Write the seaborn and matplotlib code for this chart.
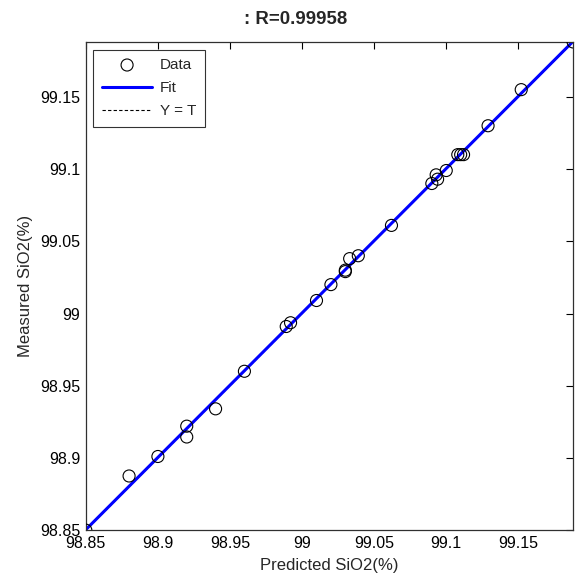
import numpy as np
import pandas as pd
import matplotlib
matplotlib.use("Agg")
import matplotlib.pyplot as plt
import seaborn as sns

sns.set_style("white")
plt.rcParams['font.family'] = ['Liberation Sans', 'DejaVu Sans']

predicted = [98.85, 98.88, 98.90, 98.92, 98.92, 98.94, 98.96, 98.989, 98.992,
             99.01, 99.02, 99.03, 99.03, 99.033, 99.039, 99.062, 99.09, 99.093,
             99.094, 99.10, 99.108, 99.11, 99.112, 99.129, 99.152, 99.188]
measured = [98.85, 98.8875, 98.901, 98.922, 98.9145, 98.934, 98.96, 98.991, 98.9936,
            99.009, 99.02, 99.029, 99.03, 99.038, 99.040, 99.061, 99.09, 99.096,
            99.093, 99.099, 99.11, 99.11, 99.11, 99.13, 99.155, 99.188]
ticks = [98.85, 98.9, 98.95, 99.0, 99.05, 99.1, 99.15]
tick_labels = ["98.85", "98.9", "98.95", "99", "99.05", "99.1", "99.15"]
title = ": R=0.99958"

df = pd.DataFrame({"T": predicted, "Y": measured})
lo, hi = min(predicted), max(predicted)
coef = np.polyfit(df["T"], df["Y"], 1)
line_x = np.array([lo, hi])
line_df = pd.DataFrame({"x": line_x, "fit": np.polyval(coef, line_x), "yt": line_x})

fig = plt.figure(figsize=(5.76, 5.75), dpi=100)
ax = fig.add_axes([0.149, 0.078, 0.846, 0.849])

sns.scatterplot(data=df, x="T", y="Y", ax=ax, marker="o", s=75,
                facecolor="none", edgecolor="black", linewidth=0.8, label="Data", zorder=3)
sns.lineplot(data=line_df, x="x", y="fit", ax=ax, color="#0000ff", linewidth=2.2,
             label="Fit", zorder=2)
sns.lineplot(data=line_df, x="x", y="yt", ax=ax, color="black", linewidth=0.8,
             linestyle=(0, (3, 2)), label="Y = T", zorder=1)

ax.set_xlim(lo, hi)
ax.set_ylim(lo, hi)
ax.set_xticks(ticks)
ax.set_xticklabels(tick_labels)
ax.set_yticks(ticks)
ax.set_yticklabels(tick_labels)
ax.tick_params(direction="in", length=5, width=0.8, top=True, right=True,
               labelsize=11.5, pad=4, colors="black")
for s in ax.spines.values():
    s.set_visible(True)
    s.set_color("#303030")
    s.set_linewidth(0.9)

ax.set_xlabel("Predicted SiO2(%)", fontsize=12, labelpad=5)
ax.set_ylabel("Measured SiO2(%)", fontsize=12, labelpad=5)
fig.text(296 / 576, 1 - 20 / 575, title, fontsize=13.4, fontweight="bold",
         ha="center", va="center")

leg = ax.legend(loc="upper left", fontsize=11, frameon=True, fancybox=False,
                edgecolor="black", borderpad=0.55, handlelength=3.3,
                handletextpad=0.5, labelspacing=0.6, borderaxespad=0.5)
leg.get_frame().set_linewidth(0.8)

fig.savefig("out.png", dpi=100)
